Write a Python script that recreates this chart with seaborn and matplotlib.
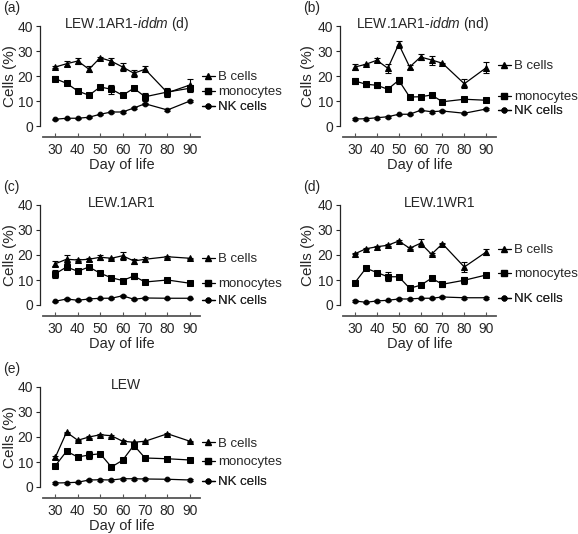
import pandas as pd
import matplotlib
matplotlib.use("Agg")
import matplotlib.pyplot as plt
import seaborn as sns
from matplotlib.lines import Line2D

sns.set_style("ticks")
plt.rcParams['font.family'] = ['Liberation Sans', 'DejaVu Sans']
plt.rcParams['mathtext.fontset'] = 'custom'
plt.rcParams['mathtext.rm'] = 'Liberation Sans'
plt.rcParams['mathtext.it'] = 'Liberation Sans:italic'

DAYS = [30, 35, 40, 45, 50, 55, 60, 65, 70, 80, 90]
CELLS = ["B cells", "monocytes", "NK cells"]

# (a) LEW.1AR1-iddm (d)
A_B = [23.6, 24.9, 26.0, 22.7, 27.3, 25.9, 23.6, 21.1, 22.7, 13.3, 16.4]
A_B_ERR = [0.5, 1.0, 1.2, 1.2, 0.5, 1.5, 1.5, 1.5, 1.2, 1.5, 2.5]
A_MONO = [18.9, 17.1, 14.0, 12.3, 15.6, 14.7, 12.3, 15.1, 11.7, 13.6, 15.1]
A_MONO_ERR = [1.0, 0.8, 0.8, 0.5, 1.0, 1.8, 0.5, 0.8, 1.5, 1.5, 1.5]
A_NK = [2.7, 3.1, 3.1, 3.5, 4.7, 5.6, 5.6, 7.2, 8.9, 6.4, 10.0]
A_NK_ERR = [0.3, 0.3, 0.3, 0.3, 0.3, 0.3, 0.3, 0.3, 0.4, 0.3, 0.4]

# (b) LEW.1AR1-iddm (nd)
B_B = [23.6, 24.7, 26.3, 23.1, 32.7, 23.6, 27.6, 26.4, 25.1, 16.9, 23.3]
B_B_ERR = [1.2, 0.3, 0.8, 1.8, 1.5, 0.8, 1.2, 1.8, 0.3, 1.8, 2.2]
B_MONO = [18.0, 16.7, 16.3, 14.7, 18.3, 11.6, 11.7, 12.4, 9.7, 10.7, 10.3]
B_MONO_ERR = [1.2, 1.0, 1.0, 0.8, 1.5, 0.5, 0.5, 0.5, 0.3, 0.8, 0.5]
B_NK = [2.8, 2.9, 3.3, 3.7, 4.7, 4.7, 6.3, 5.7, 6.0, 5.1, 6.8]
B_NK_ERR = [0.3, 0.3, 0.3, 0.3, 0.3, 0.3, 0.3, 0.3, 0.3, 0.3, 0.3]

# (c) LEW.1AR1
C_B = [16.5, 18.3, 18.0, 18.3, 19.1, 18.7, 19.7, 17.6, 18.3, 19.3, 18.7]
C_B_ERR = [1.0, 1.5, 0.5, 0.5, 1.0, 0.3, 1.5, 1.0, 1.0, 0.3, 0.3]
C_MONO = [12.5, 15.2, 13.5, 15.2, 12.7, 10.9, 9.8, 11.6, 9.2, 10.0, 8.7]
C_MONO_ERR = [1.5, 0.8, 0.8, 0.5, 0.5, 0.5, 0.3, 1.2, 0.3, 0.5, 0.5]
C_NK = [1.5, 2.4, 1.9, 2.4, 2.7, 2.7, 3.7, 2.3, 2.8, 2.7, 2.7]
C_NK_ERR = [0.3, 0.3, 0.3, 0.3, 0.3, 0.3, 0.4, 0.3, 0.3, 0.3, 0.3]

# (d) LEW.1WR1
D_B = [20.5, 22.5, 23.3, 23.9, 25.6, 22.7, 24.7, 20.3, 24.5, 15.2, 21.2]
D_B_ERR = [0.3, 0.3, 0.3, 0.3, 0.3, 0.3, 1.5, 0.3, 0.3, 2.0, 1.2]
D_MONO = [9.0, 14.7, 13.0, 11.3, 11.3, 6.7, 7.9, 10.7, 8.3, 9.9, 12.0]
D_MONO_ERR = [0.3, 0.3, 0.5, 1.8, 0.3, 0.3, 0.3, 0.3, 1.0, 1.5, 0.3]
D_NK = [1.6, 1.1, 1.6, 1.9, 2.4, 2.4, 2.7, 2.7, 3.2, 2.9, 2.9]
D_NK_ERR = [0.3, 0.3, 0.3, 0.3, 0.3, 0.3, 0.3, 0.3, 0.3, 0.3, 0.3]

# (e) LEW
E_B = [11.9, 21.9, 18.7, 20.0, 20.9, 20.5, 18.3, 17.9, 18.3, 21.3, 18.3]
E_B_ERR = [0.5, 0.3, 0.3, 0.3, 0.3, 0.3, 0.5, 0.3, 0.3, 0.3, 0.3]
E_MONO = [8.5, 14.3, 12.0, 12.8, 13.3, 8.0, 10.7, 16.7, 11.6, 11.3, 10.8]
E_MONO_ERR = [0.5, 0.5, 0.5, 1.5, 0.5, 0.5, 0.5, 1.5, 0.8, 0.8, 0.5]
E_NK = [1.6, 1.7, 1.9, 2.8, 2.9, 2.8, 3.3, 3.3, 3.2, 3.1, 2.8]
E_NK_ERR = [0.3, 0.3, 0.3, 0.3, 0.3, 0.3, 0.3, 0.3, 0.3, 0.3, 0.3]

PANELS = [
    ("(a)", "LEW.1AR1-$\\mathit{iddm}$ (d)", [A_B, A_MONO, A_NK], [A_B_ERR, A_MONO_ERR, A_NK_ERR]),
    ("(b)", "LEW.1AR1-$\\mathit{iddm}$ (nd)", [B_B, B_MONO, B_NK], [B_B_ERR, B_MONO_ERR, B_NK_ERR]),
    ("(c)", "LEW.1AR1", [C_B, C_MONO, C_NK], [C_B_ERR, C_MONO_ERR, C_NK_ERR]),
    ("(d)", "LEW.1WR1", [D_B, D_MONO, D_NK], [D_B_ERR, D_MONO_ERR, D_NK_ERR]),
    ("(e)", "LEW", [E_B, E_MONO, E_NK], [E_B_ERR, E_MONO_ERR, E_NK_ERR]),
]

# layout (pixels of 578x534 figure): left, right, top(y=40), spine bottom
AX_BOXES = [(43, 200, 26, 137), (343, 496, 26, 137),
            (43, 200, 205, 316), (343, 496, 205, 316),
            (43, 200, 387, 498)]
TITLE_X = [0.535, 0.52, 0.50, 0.63, 0.53]
LABEL_Y = [[19.6, 13.6, 7.6], [24.0, 11.6, 6.0], [18.3, 8.4, 1.6],
           [22.0, 12.4, 2.4], [17.3, 10.0, 2.0]]

MARKERS = {"B cells": "^", "monocytes": "s", "NK cells": "o"}
MSIZE = {"B cells": 3.8, "monocytes": 3.8, "NK cells": 3.4}
W, H = 578, 534

fig = plt.figure(figsize=(W / 100, H / 100), dpi=100)

for i, (tag, title, series, errs) in enumerate(PANELS):
    l, r, t, b = AX_BOXES[i]
    ax = fig.add_axes([l / W, 1 - b / H, (r - l) / W, (b - t) / H])
    rows = []
    for cell, vals, ers in zip(CELLS, series, errs):
        for d, v, e in zip(DAYS, vals, ers):
            rows.append({"day": d, "cell": cell, "value": v, "err": e})
    df = pd.DataFrame(rows)

    ax.errorbar(df["day"], df["value"], yerr=df["err"], fmt="none",
                ecolor="black", elinewidth=0.8, capsize=2, capthick=0.8,
                clip_on=False, zorder=2)
    for cell in CELLS:
        sub = df[df["cell"] == cell]
        sns.lineplot(data=sub, x="day", y="value", ax=ax, color="black",
                     marker=MARKERS[cell], markersize=MSIZE[cell],
                     markeredgecolor="black", linewidth=0.9,
                     clip_on=False, zorder=3)

    ax.set_xlim(24.5, 94.5)
    ax.set_ylim(-4.4, 40)
    ax.set_xticks([30, 40, 50, 60, 70, 80, 90])
    ax.set_yticks([0, 10, 20, 30, 40])
    sns.despine(ax=ax)
    ax.spines['left'].set_bounds(0, 40)
    ax.spines['left'].set_position(('outward', 2))
    ax.spines['left'].set_linewidth(0.9)
    ax.spines['bottom'].set_color('#555555')
    ax.spines['bottom'].set_linewidth(1.3)
    ax.tick_params(axis='x', direction='in', length=3, width=0.8,
                   labelsize=10, pad=4, color='#555555')
    ax.tick_params(axis='y', direction='out', length=3, width=0.8,
                   labelsize=10, pad=2)
    ax.set_xlabel("Day of life", fontsize=10.5, labelpad=1)
    ax.set_ylabel("Cells (%)", fontsize=11)
    ax.yaxis.set_label_coords(-0.165 if r < 300 else -0.18, 0.55)

    ax.text(TITLE_X[i], 1.02, title, transform=ax.transAxes,
            ha='center', va='center', fontsize=10)
    fig.text((l - 40) / W, 1 - (t - 18) / H, tag, fontsize=10,
             ha='left', va='center')

    for cell, ly in zip(CELLS, LABEL_Y[i]):
        h = Line2D([], [], color='black', linewidth=0.9,
                   marker=MARKERS[cell], markersize=MSIZE[cell])
        leg = ax.legend(handles=[h], labels=[cell], loc='center left',
                        bbox_to_anchor=(95.3, ly),
                        bbox_transform=ax.transData, frameon=False,
                        fontsize=9.5, handlelength=1.0, handletextpad=0.25,
                        borderpad=0, borderaxespad=0)
        ax.add_artist(leg)

fig.savefig("out.png", dpi=100)
